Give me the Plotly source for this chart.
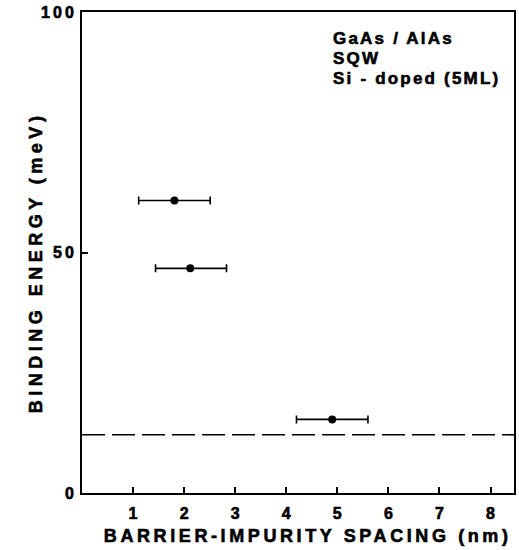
import plotly.graph_objects as go

spacing_nm = [1.81, 2.12, 4.90]
binding_meV = [60.8, 46.7, 15.3]
err_minus = [0.70, 0.68, 0.70]
err_plus = [0.70, 0.71, 0.70]
dashed_level = [12.1]
x_ticks = [1, 2, 3, 4, 5, 6, 7, 8]
y_ticks = [0, 50, 100]
labels = ["GaAs / AlAs", "SQW", "Si - doped (5ML)"]
x_title = "BARRIER-IMPURITY SPACING (nm)"
y_title = "BINDING ENERGY (meV)"

FONT = "Liberation Sans"

fig = go.Figure()
fig.add_trace(go.Scatter(
    x=[0, 8.46], y=dashed_level * 2, mode="lines",
    line=dict(color="black", width=1.6, dash="23px,7px"),
    hoverinfo="skip", showlegend=False))
fig.add_trace(go.Scatter(
    x=spacing_nm, y=binding_meV, mode="markers",
    marker=dict(color="black", size=8),
    error_x=dict(type="data", symmetric=False, array=err_plus, arrayminus=err_minus,
                 color="black", thickness=1.6, width=4),
    showlegend=False))

# axis titles as annotations (index 0, 1)
fig.add_annotation(x=0.522, y=-0.089, xref="paper", yref="paper", xanchor="center", yanchor="middle",
                   showarrow=False, text=f"<b>{x_title}</b>",
                   font=dict(family=FONT, size=18, color="black"))
fig.add_annotation(x=-0.106, y=0.48, xref="paper", yref="paper", xanchor="center", yanchor="middle",
                   showarrow=False, textangle=-90, text=f"<b>{y_title}</b>",
                   font=dict(family=FONT, size=18, color="black"))
# label lines (index 2..4)
for i, (lab, yp) in enumerate(zip(labels, [0.945, 0.903, 0.862])):
    fig.add_annotation(x=0.577, y=yp, xref="paper", yref="paper", xanchor="left", yanchor="middle",
                       align="left", showarrow=False, text=f"<b>{lab}</b>",
                       font=dict(family=FONT, size=17, color="black"))

fig.update_layout(
    width=519, height=550,
    margin=dict(l=82, r=3, t=12, b=57),
    paper_bgcolor="white", plot_bgcolor="white",
    font=dict(family=FONT, color="black"),
    xaxis=dict(range=[0, 8.46], tickvals=x_ticks, ticktext=[f"<b>{t}</b>" for t in x_ticks],
               ticks="inside", ticklen=6, tickwidth=1.5, tickcolor="black",
               showline=True, linecolor="black", linewidth=2, mirror=True,
               showgrid=False, zeroline=False, ticklabelstandoff=5,
               tickfont=dict(family=FONT, size=16)),
    yaxis=dict(range=[0, 100], tickvals=y_ticks, ticktext=[f"<b>{t}</b>" for t in y_ticks],
               ticks="inside", ticklen=6, tickwidth=1.5, tickcolor="black",
               showline=True, linecolor="black", linewidth=2, mirror=True,
               showgrid=False, zeroline=False,
               tickfont=dict(family=FONT, size=16)),
)

post = """
var gd = document.getElementById('{plot_id}');
var sp = {"0": "3.6px", "1": "4.5px", "2": "2.2px", "3": "2.2px", "4": "2.2px"};
gd.querySelectorAll('g.annotation').forEach(function(g){
  var idx = g.getAttribute('data-index');
  if (sp[idx]) { g.querySelectorAll('text').forEach(function(t){ t.style.letterSpacing = sp[idx]; }); }
});
gd.querySelectorAll('.ytick text').forEach(function(t){ t.style.letterSpacing = '3px'; });
gd.querySelectorAll('g.annotation text, .xtick text, .ytick text').forEach(function(t){
  t.style.stroke = 'black'; t.style.strokeWidth = '0.6px';
});
"""

fig.write_html("out.html", post_script=post)
